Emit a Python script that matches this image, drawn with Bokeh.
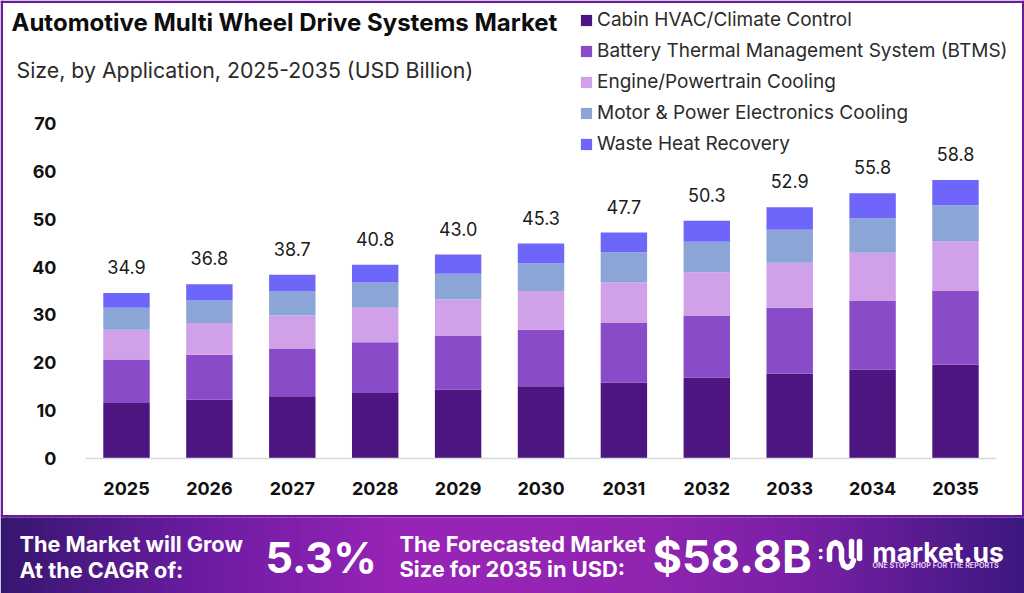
from bokeh.embed import file_html
from bokeh.resources import INLINE
from bokeh.plotting import figure
from bokeh.core.properties import value
from bokeh.models import (Label, BoxAnnotation, PolyAnnotation, Legend, LegendItem,
                          ColumnDataSource, Range1d, FixedTicker, NumeralTickFormatter)

years = [2025,2026,2027,2028,2029,2030,2031,2032,2033,2034,2035]
cabin   = [11.6,12.3,13.0,13.7,14.4,15.1,15.9,16.9,17.7,18.6,19.6]
battery = [9.1,9.4,9.9,10.6,11.2,11.8,12.5,13.0,13.8,14.4,15.4]
engine  = [6.2,6.6,7.0,7.2,7.6,8.1,8.4,9.0,9.4,10.0,10.4]
motor   = [4.6,4.7,5.1,5.3,5.4,5.8,6.3,6.4,6.9,7.2,7.5]
waste   = [3.1,3.4,3.4,3.7,4.0,4.1,4.1,4.4,4.7,5.2,5.3]
totals  = ["34.9","36.8","38.7","40.8","43.0","45.3","47.7","50.3","52.9","55.8","58.8"]
y_ticks = [0,10,20,30,40,50,60,70]
series_names = ["Cabin HVAC/Climate Control","Battery Thermal Management System (BTMS)",
                "Engine/Powertrain Cooling","Motor & Power Electronics Cooling","Waste Heat Recovery"]
colors = ["#4d1580","#8a4bc9","#d0a0e8","#8ba5d6","#6e66fa"]
FONT = "Inter"
W, H = 1024, 593
ABS = {"position":"absolute","left":"0px","top":"0px"}
FL, FB, FR = 85, 458, 1022   # frame of the chart on the canvas
PX_X, PX_Y = 82.9, 4.786     # pixels per year / per USD billion
X0 = 126.0                   # pixel position of 2025

# ---------- backdrop: border, banner, titles, logo ----------
bg = figure(width=W, height=H, output_backend="svg", toolbar_location=None,
            x_range=Range1d(0,W), y_range=Range1d(0,H), x_axis_location=None, y_axis_location=None,
            min_border=0, outline_line_color=None, background_fill_color="white", border_fill_color="white",
            styles=ABS)
bg.grid.visible = False

def box(l,t,r_,b,c):
    bg.add_layout(BoxAnnotation(left=l,right=r_,top=H-t,bottom=H-b,left_units="screen",right_units="screen",
                                top_units="screen",bottom_units="screen",fill_color=c,fill_alpha=1,
                                line_color=None))
BORDER="#6a1b9a"
box(0,0,1024,2.5,BORDER); box(0,0,2.5,516,BORDER); box(1021.5,0,1024,516,BORDER)
box(0,514.5,1024,517,BORDER)
stops=[(0,(0x36,0x17,0x70)),(200,(0x6c,0x1c,0xa2)),(400,(0x99,0x24,0xb8)),(640,(0x92,0x25,0xb2)),
       (800,(0x7a,0x20,0xa6)),(1024,(0x3d,0x18,0x80))]
def col(x):
    for (a,ca),(b,cb) in zip(stops,stops[1:]):
        if a<=x<=b:
            t=(x-a)/(b-a)
            return "#%02x%02x%02x"%tuple(int(u+(v-u)*t) for u,v in zip(ca,cb))
    return "#3d1880"
for x in range(0,1024,6):
    box(x,517,min(x+7,1024),593,col(x+3))

def text(s,x,y,size,bold=True,color="white",align="left"):
    bg.add_layout(Label(x=x,y=H-y,x_units="screen",y_units="screen",text=s,text_font=FONT,
                        text_font_size=f"{size}px",text_font_style="bold" if bold else "normal",
                        text_color=color,text_align=align,text_baseline="middle"))

text("Automotive Multi Wheel Drive Systems Market",11,22,24,color="#0d0d0d")
text("Size, by Application, 2025-2035 (USD Billion)",16,69,21.3,bold=False,color="#2b2b2b")
text("The Market will Grow",19,543,21.7)
text("At the CAGR of:",19,569,21.7)
text("5.3%",265,556,43)
text("The Forecasted Market",399,543,21.8)
text("Size for 2035 in USD:",399,568,21.8)
text("$58.8B",652,556,45)
text("market.us",872,551,26.5)
text("ONE STOP SHOP FOR THE REPORTS",872,564.5,7.2,color="#e8c8f5")

def stroke(path,w=5.5):
    xs=[a for a,_ in path]+[a for a,_ in reversed(path)]
    ys=[H-b for _,b in path]+[H-b for _,b in reversed(path)]
    bg.add_layout(PolyAnnotation(xs=xs,ys=ys,xs_units="screen",ys_units="screen",fill_alpha=0,
                                 line_color="white",line_alpha=1,line_width=w,line_join="round",line_cap="round"))
stroke([(820,550),(820.5,550)],3.5)
stroke([(820,557),(820.5,557)],3.5)
stroke([(829,559),(829,549),(831,544),(835,542),(839,544),(841,549),(841,559),(843,565),(847,567),(851,565),(853,560)])
stroke([(851,541),(851,556)])
stroke([(859,541),(859,558)])

# ---------- chart ----------
tops = [round(a+b+c+d+e,1) for a,b,c,d,e in zip(cabin,battery,engine,motor,waste)]
src = ColumnDataSource(dict(year=years, cabin=cabin, battery=battery, engine=engine,
                            motor=motor, waste=waste, top=tops, total=totals))
x_start = years[0]-(X0-FL)/PX_X
p = figure(width=W, height=H, output_backend="svg", toolbar_location=None,
           x_range=Range1d(x_start, x_start+(FR-FL)/PX_X), y_range=Range1d(0, FB/PX_Y),
           min_border_left=FL, min_border_right=W-FR, min_border_top=0, min_border_bottom=H-FB,
           outline_line_color=None, background_fill_color=None, border_fill_color=None, styles=ABS)
p.grid.visible = False
for ax in (p.xaxis, p.yaxis):
    ax.major_tick_line_color = None
    ax.minor_tick_line_color = None
    ax.major_label_text_font = FONT
    ax.major_label_text_font_style = "bold"
    ax.major_label_text_font_size = "18px"
    ax.major_label_text_color = "#111111"
p.yaxis.axis_line_color = None
p.yaxis.major_label_standoff = 23
p.yaxis.ticker = FixedTicker(ticks=y_ticks)
p.xaxis.ticker = FixedTicker(ticks=years)
p.xaxis.formatter = NumeralTickFormatter(format="0")
p.xaxis.bounds = (years[0]-0.5, years[-1]+0.5)
p.xaxis.axis_line_color = "#d9d9d9"
p.xaxis.axis_line_width = 1.5
p.xaxis.major_label_standoff = 17

r = p.vbar_stack(["cabin","battery","engine","motor","waste"], x="year", width=0.56,
                 color=colors, line_color=None, source=src)
p.text(x="year", y="top", text="total", source=src, text_font=value(FONT), text_font_size="18px",
       text_color="#1a1a1a", text_align="center", text_baseline="middle", y_offset=-26)

leg = Legend(items=[LegendItem(label=n, renderers=[g]) for n,g in zip(series_names,r)],
             location=(494,303), orientation="vertical", background_fill_alpha=0,
             border_line_color=None, margin=0, padding=0, spacing=8, glyph_width=14, glyph_height=14,
             label_height=21, label_standoff=4, label_text_font=FONT, label_text_font_size="19px",
             label_text_color="#2b2b2b")
p.add_layout(leg, "center")

open("out.html","w").write(file_html((bg,p),INLINE))
